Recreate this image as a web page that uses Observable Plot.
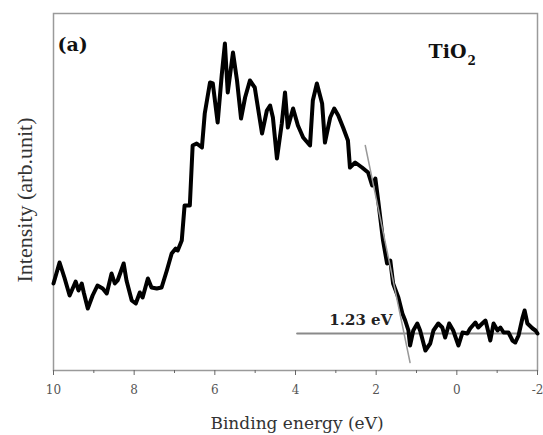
<!DOCTYPE html>
<html>
<head>
<meta charset="utf-8">
<script src="https://cdn.jsdelivr.net/npm/d3@7"></script>
<script src="https://cdn.jsdelivr.net/npm/@observablehq/plot@0.6"></script>
<style>
  html, body { margin: 0; padding: 0; background: #fff; }
  #chart { position: relative; width: 543px; height: 435px; }
  #ylabel { position: absolute; left: 25px; top: 200px; transform: translate(-50%, -50%) rotate(-90deg);
    font-family: "Liberation Serif", serif; font-size: 22px; color: #333; white-space: nowrap; line-height: 1; }
  #xlabel { position: absolute; left: 297px; top: 415px; transform: translateX(-50%);
    font-family: "DejaVu Serif", serif; font-size: 17px; color: #333; white-space: nowrap; line-height: 1; }
</style>
</head>
<body>
<div id="chart"></div>
<script>
// Binding energy (eV) and intensity (arb. unit)
const energy = [10.0, 9.85, 9.73, 9.60, 9.45, 9.38, 9.30, 9.25, 9.15, 9.03, 8.91, 8.78, 8.68, 8.56, 8.48, 8.41, 8.26, 8.19, 8.06, 7.96,
  7.86, 7.79, 7.66, 7.57, 7.44, 7.32, 7.19, 7.07, 6.97, 6.92, 6.82, 6.75, 6.62, 6.55, 6.45, 6.32, 6.25, 6.12, 6.05, 5.93,
  5.83, 5.75, 5.68, 5.55, 5.45, 5.35, 5.25, 5.13, 5.01, 4.83, 4.71, 4.63, 4.56, 4.46, 4.34, 4.26, 4.19, 4.06, 3.94, 3.81,
  3.64, 3.57, 3.47, 3.34, 3.27, 3.14, 3.04, 2.94, 2.82, 2.70, 2.65, 2.52, 2.35, 2.20, 2.10, 2.02, 1.95, 1.83, 1.73, 1.65,
  1.58, 1.45, 1.35, 1.28, 1.20, 1.16, 1.08, 0.98, 0.91, 0.78, 0.66, 0.58, 0.46, 0.36, 0.29, 0.19, 0.09, -0.04, -0.14, -0.26,
  -0.33, -0.46, -0.53, -0.63, -0.71, -0.76, -0.83, -0.91, -1.01, -1.08, -1.16, -1.28, -1.38, -1.45, -1.53, -1.63, -1.68, -1.75, -1.88, -1.95, -2.0];
const intensity = [87, 108, 93, 75, 89, 80, 87, 78, 62, 75, 85, 82, 77, 97, 87, 90, 107, 90, 70, 67,
  78, 73, 92, 83, 82, 83, 100, 117, 122, 120, 130, 165, 165, 225, 227, 223, 257, 288, 287, 248,
  295, 327, 278, 318, 290, 252, 273, 290, 283, 237, 260, 265, 253, 212, 247, 278, 243, 262, 245, 233,
  225, 270, 287, 267, 228, 253, 262, 255, 243, 230, 203, 208, 203, 198, 185, 192, 170, 130, 107, 110,
  87, 73, 57, 50, 40, 25, 40, 47, 40, 20, 27, 40, 47, 43, 33, 47, 40, 25, 38, 37,
  42, 48, 43, 47, 50, 42, 30, 47, 40, 43, 38, 38, 30, 28, 35, 53, 60, 47, 42, 40, 37];

// Linear extrapolation of the leading edge
const edgeEnergy = [2.27, 1.16];
const edgeIntensity = [225, 8];
// Background baseline
const baseEnergy = [3.96, -2.0];
const baseIntensity = [37, 37];

const majorTicks = [10, 8, 6, 4, 2, 0, -2];
const minorTicks = [9, 7, 5, 3, 1, -1];
const gapLabel = "1.23 eV";

const spectrum = energy.map((e, i) => ({e, v: intensity[i]}));
const edge = edgeEnergy.map((e, i) => ({e, v: edgeIntensity[i]}));
const base = baseEnergy.map((e, i) => ({e, v: baseIntensity[i]}));

const serif = "DejaVu Serif, serif";

const chart = Plot.plot({
  width: 543,
  height: 435,
  marginLeft: 53,
  marginRight: 6,
  marginTop: 13,
  marginBottom: 65,
  style: {fontFamily: serif, background: "#fff"},
  x: {domain: [10, -2]},
  y: {domain: [0, 357], axis: null},
  marks: [
    Plot.frame({stroke: "#9a9a9a", strokeWidth: 1.5}),
    Plot.axisX({ticks: majorTicks, tickSize: 5, tickFormat: d => d < 0 ? "-" + Math.abs(d) : String(d),
      fontSize: 12, fill: "#555", stroke: "#666", tickPadding: 10, label: null}),
    Plot.axisX({ticks: minorTicks, tickSize: 3, text: null, stroke: "#666", label: null}),
    Plot.line(base, {x: "e", y: "v", stroke: "#8a8a8a", strokeWidth: 2}),
    Plot.line(spectrum, {x: "e", y: "v", stroke: "#000", strokeWidth: 4, strokeLinejoin: "round", curve: "linear"}),
    Plot.line(edge, {x: "e", y: "v", stroke: "#999", strokeWidth: 1.5}),
    Plot.text([gapLabel], {x: 1.6, y: 50, text: d => d, textAnchor: "end", fontSize: 15, fontWeight: "bold", fill: "#222"}),
    Plot.text(["(a)"], {frameAnchor: "top-left", dx: 4, dy: 24, text: d => d, textAnchor: "start", fontSize: 19, fontWeight: "bold", fill: "#111"}),
    Plot.text(["TiO"], {frameAnchor: "top-right", dx: -71, dy: 31, text: d => d, textAnchor: "end", fontSize: 19, fontWeight: "bold", fill: "#111"}),
    Plot.text(["2"], {frameAnchor: "top-right", dx: -70, dy: 43, text: d => d, textAnchor: "start", fontSize: 12, fontWeight: "bold", fill: "#111"})
  ]
});

const host = document.getElementById("chart");
host.appendChild(chart);
const yl = document.createElement("div"); yl.id = "ylabel"; yl.textContent = "Intensity (arb.unit)"; host.appendChild(yl);
const xl = document.createElement("div"); xl.id = "xlabel"; xl.textContent = "Binding energy (eV)"; host.appendChild(xl);
</script>
</body>
</html>
